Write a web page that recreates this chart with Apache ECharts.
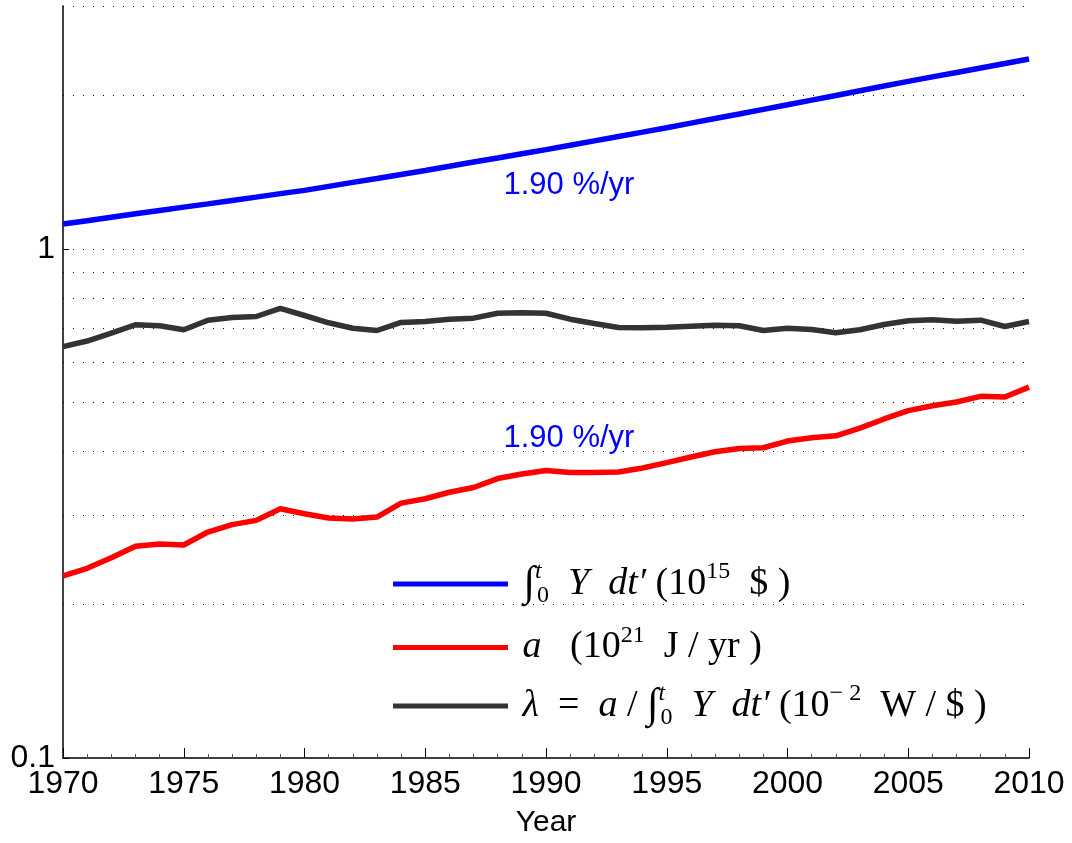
<!DOCTYPE html>
<html>
<head>
<meta charset="utf-8">
<script src="https://cdn.jsdelivr.net/npm/echarts@6/dist/echarts.min.js"></script>
<style>
html,body{margin:0;padding:0;background:#fff;}
#chart{width:1072px;height:843px;}
</style>
</head>
<body>
<div id="chart"></div>
<script>
// ---- data ----
const years = [1970,1971,1972,1973,1974,1975,1976,1977,1978,1979,
               1980,1981,1982,1983,1984,1985,1986,1987,1988,1989,
               1990,1991,1992,1993,1994,1995,1996,1997,1998,1999,
               2000,2001,2002,2003,2004,2005,2006,2007,2008,2009,2010];

// cumulative GDP  (10^15 $)
const cumY = [1.119,1.136,1.154,1.172,1.190,1.208,1.226,1.245,1.264,1.284,
              1.303,1.327,1.351,1.375,1.400,1.426,1.453,1.481,1.509,1.538,
              1.567,1.598,1.630,1.663,1.696,1.730,1.766,1.803,1.841,1.880,
              1.919,1.960,2.002,2.045,2.089,2.133,2.177,2.221,2.267,2.313,2.361];

// a (10^21 J/yr)
const aVals = [0.2278,0.2358,0.2474,0.2606,0.2633,0.2621,0.2779,0.2873,0.2929,0.3088,
               0.3019,0.2960,0.2947,0.2974,0.3167,0.3230,0.3327,0.3399,0.3539,0.3614,
               0.3669,0.3636,0.3636,0.3647,0.3713,0.3803,0.3902,0.3996,0.4055,0.4068,
               0.4193,0.4256,0.4294,0.4445,0.4634,0.4811,0.4920,0.5003,0.5133,0.5117,0.5352];

// lambda (10^-2 W/$)
const lambdaVals = [0.6427,0.6592,0.6834,0.7096,0.7063,0.6938,0.7244,0.7332,0.7366,0.7645,
                    0.7399,0.7159,0.6986,0.6914,0.7170,0.7202,0.7277,0.7311,0.7476,0.7489,
                    0.7476,0.7277,0.7136,0.7008,0.6998,0.7018,0.7050,0.7082,0.7063,0.6914,
                    0.6986,0.6947,0.6846,0.6938,0.7105,0.7226,0.7259,0.7211,0.7244,0.7040,0.7202];

const gridValues = [0.2,0.3,0.4,0.5,0.6,0.7,0.8,0.9,1,2,3];
const rateLabel = '1.90 %/yr';
const rateLabelPosUpper = [1990.95, 1.33];
const rateLabelPosLower = [1990.95, 0.425];

const SANS = 'Liberation Sans, Arial, Helvetica, sans-serif';
const SERIF = 'Liberation Serif, Times New Roman, serif';

function pairs(xs, ys){ return xs.map((x,i)=>[x, ys[i]]); }

const legendText = {
  'cumY': '{int| ∫}{supi|t}{sub|0}{i|  Y  dt′}{r| (10}{sup|15}{r|  $ )}',
  'a': '{i| a}{r|   (10}{sup|21}{r|  J / yr )}',
  'lambda': '{i| λ}{r|  =  }{i|a}{r| / }{int|∫}{supi|t}{sub|0}{i|  Y  dt′}{r| (10}{sup|− 2}{r|  W / $ )}'
};

const chart = echarts.init(document.getElementById('chart'), null, {renderer:'canvas'});

const option = {
  animation: false,
  backgroundColor: '#fff',
  textStyle: {fontFamily: SANS},
  grid: {left: 63, right: 43, top: 6, bottom: 80, containLabel: false},
  xAxis: {
    type: 'value', min: 1970, max: 2010, interval: 5,
    name: 'Year', nameLocation: 'middle', nameGap: 50,
    nameTextStyle: {fontFamily: SANS, fontSize: 30, color: '#000'},
    axisLine: {show: true, onZero: false, lineStyle: {color: '#000', width: 1.5}},
    axisTick: {show: true, inside: true, length: 10, lineStyle: {color: '#000', width: 1}},
    minorTick: {show: true, splitNumber: 5, length: 4, lineStyle: {color: '#555', width: 1}},
    axisLabel: {fontFamily: SANS, fontSize: 32, color: '#000', margin: 10,
                formatter: v => String(v)},
    splitLine: {show: false}
  },
  yAxis: {
    type: 'log', logBase: 10, min: 0.1, max: 3,
    axisLine: {show: true, onZero: false, lineStyle: {color: '#000', width: 1.5}},
    axisTick: {show: true, inside: true, length: 6, lineStyle: {color: '#000'}},
    axisLabel: {fontFamily: SANS, fontSize: 32, color: '#000', margin: 8,
                showMaxLabel: false,
                formatter: v => (Math.abs(v-1) < 1e-9 ? '1' : Math.abs(v-0.1) < 1e-9 ? '0.1' : '')},
    splitLine: {show: false}
  },
  legend: {
    orient: 'vertical', left: 388, top: 555,
    itemWidth: 115, itemHeight: 5, itemGap: 15.5,
    icon: 'rect',
    data: ['cumY','a','lambda'],
    formatter: name => legendText[name],
    textStyle: {
      rich: {
        r:   {fontFamily: SERIF, fontSize: 38, lineHeight: 48, verticalAlign: 'middle', color: '#000'},
        i:   {fontFamily: SERIF, fontStyle: 'italic', fontSize: 38, lineHeight: 48, verticalAlign: 'middle', color: '#000'},
        int: {fontFamily: SERIF, fontSize: 42, lineHeight: 48, verticalAlign: 'middle', color: '#000'},
        supi:{fontFamily: SERIF, fontStyle: 'italic', fontSize: 24, lineHeight: 22, verticalAlign: 'top', width: 2, color: '#000'},
        sub: {fontFamily: SERIF, fontSize: 24, lineHeight: 22, verticalAlign: 'bottom', color: '#000'},
        sup: {fontFamily: SERIF, fontSize: 24, lineHeight: 24, verticalAlign: 'top', color: '#000'}
      }
    }
  },
  series: [
    {
      name: 'cumY', type: 'line', data: pairs(years, cumY), symbol: 'none',
      lineStyle: {color: '#0000ff', width: 5.5}, itemStyle: {color: '#0000ff'},
      z: 5,
      markLine: {
        silent: true, symbol: 'none', animation: false,
        label: {show: false},
        lineStyle: {color: '#111', width: 1, type: [1, 9]},
        data: gridValues.map(v => ({yAxis: v}))
      },
      markPoint: {
        silent: true, symbol: 'circle', symbolSize: 1,
        itemStyle: {color: 'rgba(0,0,0,0)'},
        label: {show: true, position: 'inside', formatter: rateLabel,
                fontFamily: SANS, fontSize: 31, color: '#0000ff'},
        data: [{coord: rateLabelPosUpper}, {coord: rateLabelPosLower}]
      }
    },
    {
      name: 'a', type: 'line', data: pairs(years, aVals), symbol: 'none',
      lineStyle: {color: '#ff0000', width: 5.5}, itemStyle: {color: '#ff0000'}, z: 5
    },
    {
      name: 'lambda', type: 'line', data: pairs(years, lambdaVals), symbol: 'none',
      lineStyle: {color: '#333333', width: 5.5}, itemStyle: {color: '#333333'}, z: 5
    }
  ]
};
chart.setOption(option);
</script>
</body>
</html>
